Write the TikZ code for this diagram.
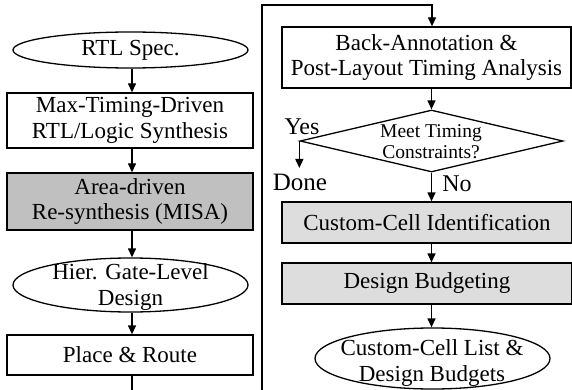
\documentclass[tikz,border=0pt]{standalone}
\usepackage{fontspec}
\setmainfont{Liberation Serif}
\usetikzlibrary{shapes.geometric,arrows.meta}
\definecolor{darkgr}{RGB}{192,192,192}
\definecolor{lightgr}{RGB}{221,221,221}
\tikzset{
  base/.style={line width=1.3pt, draw=black, inner sep=0pt},
  procbox/.style={base, rectangle, align=center},
  ovalbox/.style={base, ellipse},
  txt/.style={inner sep=0pt, align=center},
  arr/.style={line width=1.3pt, -{Triangle[length=9pt,width=8pt]}},
  conn/.style={line width=1.3pt}
}
\begin{document}
\begin{tikzpicture}[x=1pt,y=-1pt,font=\fontsize{23}{25.5}\selectfont]
\useasboundingbox (0,0) rectangle (572,390);
\clip (0,0) rectangle (572,390);
% left column
\node[ovalbox, minimum width=235, minimum height=36] (rtl) at (130.5,50) {};
\node[txt] at (rtl) {RTL Spec.};
\node[procbox, minimum width=246, minimum height=55] (maxt) at (130,120.5) {Max-Timing-Driven\\RTL/Logic Synthesis};
\node[procbox, fill=darkgr, minimum width=246, minimum height=57] (area) at (130,201.5) {Area-driven\\Re-synthesis (MISA)};
\node[ovalbox, minimum width=235, minimum height=54] (hier) at (130.5,285) {};
\node[txt] at (130.5,287) {Hier. Gate-Level\\Design};
\node[procbox, minimum width=246, minimum height=40] (pr) at (130,355) {Place \& Route};
% right column
\node[procbox, minimum width=289, minimum height=61] (ba) at (426.5,57.5) {Back-Annotation \&\\Post-Layout Timing Analysis};
\node[base, diamond, minimum width=263, minimum height=62] (dia) at (431.5,141) {};
\node[txt, font=\fontsize{19.5}{21}\selectfont] at (431,142) {Meet Timing\\Constraints?};
\node[txt, font=\fontsize{24}{26}\selectfont] (yes) at (302,127) {Yes};
\node[txt, font=\fontsize{25}{27}\selectfont] (done) at (300,182) {Done};
\node[txt, font=\fontsize{24}{26}\selectfont] (no) at (457,184) {No};
\node[procbox, fill=lightgr, minimum width=290, minimum height=41] (cci) at (427,222.5) {Custom-Cell Identification};
\node[procbox, fill=lightgr, minimum width=290, minimum height=41] (db) at (427,283.5) {Design Budgeting};
\node[ovalbox, minimum width=235, minimum height=61] (ccl) at (432.5,358.5) {};
\node[txt] at (432,363) {Custom-Cell List \&\\Design Budgets};
% connectors
\coordinate (c1) at (262,400);
\coordinate (c2) at (262,5);
\coordinate (c3) at (432,5);
\draw[arr] (rtl.south -| 132,0) -- (maxt.north -| 132,0);
\draw[arr] (maxt.south -| 132,0) -- (area.north -| 132,0);
\draw[arr] (area.south -| 132,0) -- (hier.north -| 132,0);
\draw[arr] (hier.south -| 132,0) -- (pr.north -| 132,0);
\draw[arr] (pr.south -| 132,0) |- (c1) -- (c2) -- (c3) -- (c3 |- ba.north);
\draw[arr] (dia.north |- ba.south) -- (dia.north);
\draw[arr] (dia.west) -- ++(0,27);
\draw[arr] (dia.south) -- (dia.south |- cci.north);
\draw[arr] (dia.south |- cci.south) -- (dia.south |- db.north);
\draw[arr] (dia.south |- db.south) -- (dia.south |- ccl.north);
\end{tikzpicture}
\end{document}
